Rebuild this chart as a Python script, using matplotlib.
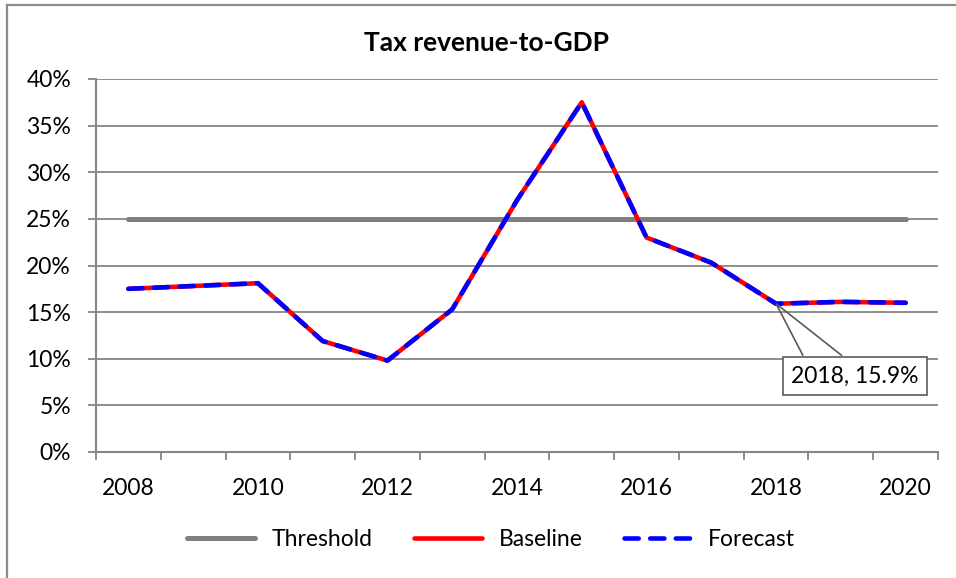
import matplotlib.pyplot as plt
import matplotlib.transforms as mtransforms
from matplotlib.lines import Line2D
from matplotlib.patches import Polygon
from matplotlib.ticker import PercentFormatter, FixedLocator
import numpy as np

plt.rcParams['font.family'] = ['Lato', 'DejaVu Sans']

years = [2008, 2009, 2010, 2011, 2012, 2013, 2014, 2015, 2016, 2017, 2018, 2019, 2020]
baseline = [17.5, 17.8, 18.1, 11.9, 9.8, 15.3, 27.0, 37.5, 23.0, 20.3, 15.9, 16.1, 16.0]
forecast = [17.5, 17.8, 18.1, 11.9, 9.8, 15.3, 27.0, 37.5, 23.0, 20.3, 15.9, 16.1, 16.0]
threshold = [25] * len(years)
label_year = 2018

W, H = 956, 578
fig = plt.figure(figsize=(W / 100, H / 100), dpi=100)
ax = fig.add_axes([96 / W, 1 - 452 / H, (938 - 96) / W, (452 - 79) / H])

grid_col = '#868686'
x = np.arange(len(years))

ax.plot(x, threshold, color='#808080', lw=3.6, solid_capstyle='round', label='Threshold', zorder=3)
ax.plot(x, baseline, color='#ff0000', lw=3.3, solid_capstyle='round', solid_joinstyle='round',
        label='Baseline', zorder=4)
ax.plot(x, forecast, color='#0000ff', lw=3.3, dashes=(3.1, 2.5), dash_capstyle='round',
        dash_joinstyle='round', label='Forecast', zorder=5)

ax.set_xlim(-0.5, len(years) - 0.5)
ax.set_ylim(0, 40)
ax.set_yticks(np.arange(0, 41, 5))
ax.yaxis.set_major_formatter(PercentFormatter(decimals=0))
ax.grid(axis='y', color=grid_col, lw=1.3)
ax.set_axisbelow(True)

ax.set_xticks(x[::2])
ax.set_xticklabels([str(y) for y in years[::2]])
ax.xaxis.set_minor_locator(FixedLocator(np.arange(-0.5, len(years), 1.0)))
ax.tick_params(axis='x', which='major', length=0, pad=19, labelsize=16.5)
ax.tick_params(axis='x', which='minor', length=6, width=1.3, color=grid_col)
ax.tick_params(axis='y', length=6, width=1.3, color=grid_col, pad=12, labelsize=16.5)

for s in ['top', 'right']:
    ax.spines[s].set_visible(False)
for s in ['left', 'bottom']:
    ax.spines[s].set_color(grid_col)
    ax.spines[s].set_linewidth(1.5)

# callout on 2018 value
i = years.index(label_year)
anchor = mtransforms.ScaledTranslation(x[i], baseline[i], ax.transData)
wedge = Polygon([(0.27, -0.52), (0, 0), (0.66, -0.52)], closed=False, fill=False,
                ec='#5a5a5a', lw=1.2, transform=fig.dpi_scale_trans + anchor, zorder=6)
ax.add_patch(wedge)
ax.annotate(f'{label_year}, {baseline[i]:.1f}%', xy=(x[i], baseline[i]), xytext=(57, -52),
            textcoords='offset points', ha='center', va='center', fontsize=16.5, zorder=7,
            bbox=dict(boxstyle='square,pad=0.36', fc='white', ec='#5a5a5a', lw=1.2))

fig.text(486 / W, 1 - 43 / H, 'Tax revenue-to-GDP', ha='center', va='center',
         fontsize=19, fontweight='bold')

fig.legend(loc='center', bbox_to_anchor=(491 / W, 1 - 540 / H), ncol=3, frameon=False,
           fontsize=16.5, handlelength=3.0, handletextpad=0.7, columnspacing=1.8)

# outer chart frame (left and top edges only visible)
fig.add_artist(Line2D([7 / W, 7 / W], [0, 1 - 5 / H], color='#8c8c8c', lw=1.6))
fig.add_artist(Line2D([7 / W, 1], [1 - 5 / H, 1 - 5 / H], color='#8c8c8c', lw=1.6))

fig.savefig('out.png', dpi=100)
